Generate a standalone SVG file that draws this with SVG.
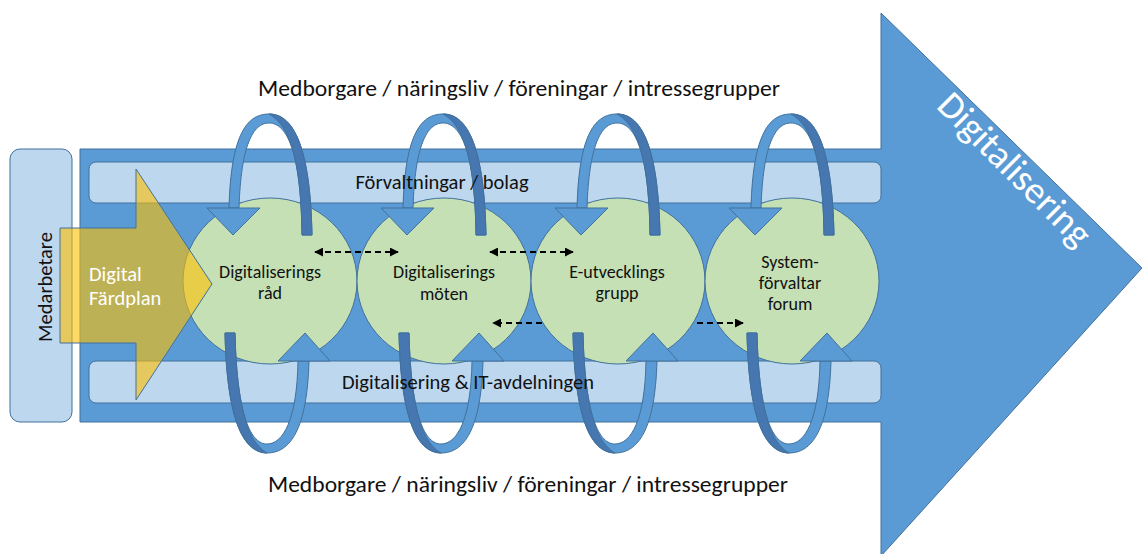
<svg xmlns="http://www.w3.org/2000/svg" width="1142" height="554" viewBox="0 0 1142 554">
<defs>
<style>
.t{font-family:Carlito,Lato,"Open Sans",sans-serif;fill:#111}
.w{font-family:Carlito,Lato,"Open Sans",sans-serif;fill:#ffffff}
.band{fill:#BDD7EE;stroke:#41719C;stroke-width:1}
.circ{fill:#C5E0B4;stroke:#41719C;stroke-width:1}
.lt{fill:#5B9BD5;stroke:#41719C;stroke-width:1}
.dk{fill:#4677B0;stroke:#41719C;stroke-width:1}
.dash{stroke:#000;stroke-width:1.8;stroke-dasharray:6 4;fill:none}
</style>
<marker id="ah" viewBox="0 0 10 10" refX="9" refY="5" markerWidth="5" markerHeight="5" orient="auto-start-reverse" markerUnits="strokeWidth">
<path d="M0,0 L10,5 L0,10 Z" fill="#000"/>
</marker>
<g id="arcTop">
<path class="lt" d="M-41,208 C-39,132 -22,114 -1,114 C21,114 40,140 42,235 L32,235 C31,152 17,123 -1,123 C-17,123 -29,145 -31,208 Z"/>
<path class="dk" d="M-1,114 C21,114 40,140 42,235 L32,235 C31,160 20,126 -1,114 Z"/>
<polygon class="lt" points="-63,208 -10,208 -37,235"/>
</g>
<g id="arcBot">
<path class="lt" d="M-45,333 C-43,425 -25,453 -3,453 C20,453 37,430 39,361 L28,361 C27,420 13,444 -3,444 C-18,444 -33,420 -35,333 Z"/>
<path class="dk" d="M-45,333 C-43,425 -25,452 -3,453 C-18,444 -33,420 -35,333 Z"/>
<polygon class="lt" points="8,361 60,361 35,333"/>
</g>
</defs>

<g id="digitalisering-arrow">
<polygon class="lt" points="80,149 881,149 881,13 1142,268 881,556 881,422 80,422"/>
<text class="w" font-size="38" text-anchor="middle" transform="translate(1006,178) rotate(45)">Digitalisering</text>
</g>

<g id="medarbetare">
<rect class="band" x="10" y="149" width="62" height="273" rx="10"/>
<text class="t" font-size="20.5" text-anchor="middle" transform="translate(52,287) rotate(-90)">Medarbetare</text>
</g>

<g id="forvaltningar">
<rect class="band" x="89" y="162" width="792" height="41" rx="7"/>
</g>

<g id="it-avdelningen">
<rect class="band" x="89" y="361" width="792" height="42" rx="7"/>
</g>

<g id="node-rad">
<ellipse class="circ" cx="270" cy="281" rx="87" ry="83"/>
<text class="t" font-size="18" text-anchor="middle"><tspan x="270" y="278">Digitaliserings</tspan><tspan x="270" y="299">råd</tspan></text>
</g>
<g id="node-moten">
<ellipse class="circ" cx="444" cy="281" rx="87" ry="83"/>
<text class="t" font-size="18" text-anchor="middle"><tspan x="444" y="278">Digitaliserings</tspan><tspan x="444" y="300">möten</tspan></text>
</g>
<g id="node-grupp">
<ellipse class="circ" cx="618" cy="281" rx="87" ry="83"/>
<text class="t" font-size="18" text-anchor="middle"><tspan x="617" y="278">E-utvecklings</tspan><tspan x="617" y="299">grupp</tspan></text>
</g>
<g id="node-forum">
<ellipse class="circ" cx="792" cy="281" rx="87" ry="83"/>
<text class="t" font-size="18" text-anchor="middle"><tspan x="790" y="268">System-</tspan><tspan x="790" y="289">förvaltar</tspan><tspan x="790" y="310">forum</tspan></text>
</g>

<g id="digital-fardplan">
<polygon points="60,228 136,228 136,169 212,284 136,400 136,343 60,343" fill="#FFC000" fill-opacity="0.6" stroke="#41719C" stroke-width="1"/>
<text class="w" font-size="20.5"><tspan x="89" y="281">Digital</tspan><tspan x="89" y="305">Färdplan</tspan></text>
</g>

<g id="connectors">
<use href="#arcTop" transform="translate(270,0)"/>
<use href="#arcTop" transform="translate(444,0)"/>
<use href="#arcTop" transform="translate(618,0)"/>
<use href="#arcTop" transform="translate(792,0)"/>
<use href="#arcBot" transform="translate(270,0)"/>
<use href="#arcBot" transform="translate(444,0)"/>
<use href="#arcBot" transform="translate(618,0)"/>
<use href="#arcBot" transform="translate(792,0)"/>
<line class="dash" x1="315" y1="252" x2="398" y2="252" marker-start="url(#ah)" marker-end="url(#ah)"/>
<line class="dash" x1="490" y1="252" x2="573" y2="252" marker-start="url(#ah)" marker-end="url(#ah)"/>
<line class="dash" x1="542" y1="323" x2="493" y2="323" marker-end="url(#ah)"/>
<line class="dash" x1="697" y1="323" x2="743" y2="323" marker-end="url(#ah)"/>
</g>

<g id="band-labels">
<text class="t" x="442" y="189" font-size="20.5" text-anchor="middle">Förvaltningar / bolag</text>
<text class="t" x="468" y="389" font-size="20.5" text-anchor="middle">Digitalisering &amp; IT-avdelningen</text>
</g>

<g id="stakeholders">
<text class="t" x="519" y="96" font-size="23" text-anchor="middle" textLength="522" lengthAdjust="spacingAndGlyphs">Medborgare / näringsliv / föreningar / intressegrupper</text>
<text class="t" x="528" y="492" font-size="23" text-anchor="middle" textLength="520" lengthAdjust="spacingAndGlyphs">Medborgare / näringsliv / föreningar / intressegrupper</text>
</g>
</svg>
